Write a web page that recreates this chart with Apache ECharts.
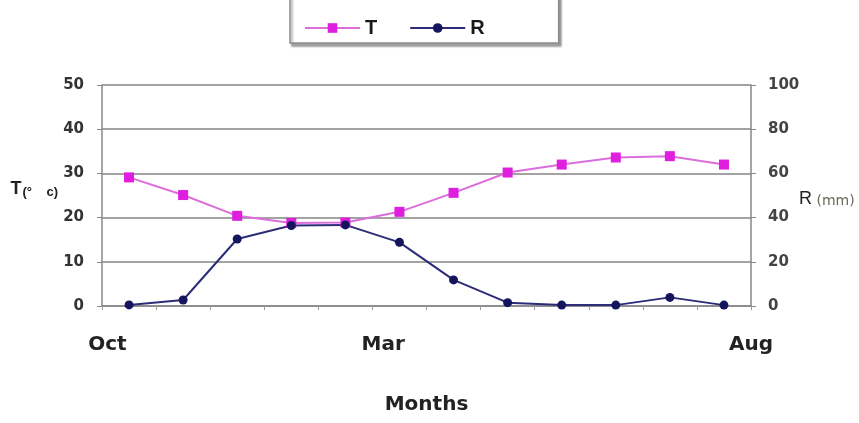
<!DOCTYPE html>
<html>
<head>
<meta charset="utf-8">
<script src="https://cdn.jsdelivr.net/npm/echarts@6/dist/echarts.min.js"></script>
<style>
    html, body { margin: 0; padding: 0; background: #fff; }
    #chart-box { width: 859px; height: 423px; }
</style>
</head>
<body>
<div id="chart-box"></div>
<script>
    // months on the category axis (one point per month)
    let months = ['Oct', 'Nov', 'Dec', 'Jan', 'Feb', 'Mar', 'Apr', 'May', 'Jun', 'Jul', 'Aug', 'Sep'];
    // temperature (°C), left axis
    let tempValues = [29.1, 25.1, 20.4, 18.8, 18.9, 21.3, 25.6, 30.2, 32.0, 33.6, 33.9, 32.0];
    // rainfall (mm), right axis
    let rainValues = [0.5, 2.7, 30.3, 36.4, 36.7, 28.8, 11.8, 1.5, 0.4, 0.4, 3.9, 0.4];
    // month labels printed under the axis and where they sit (in category widths)
    let tickLabels = ['Oct', 'Mar', 'Aug'];
    let tickSlots = [0.1, 5.2, 12];

    let labelFont = 'DejaVu Sans, Arial, sans-serif';

    let option = {
        backgroundColor: '#fff',
        animation: false,
        legend: {
            left: 290,
            top: -10,
            padding: [28, 74, 5, 14],
            itemWidth: 55,
            itemHeight: 12,
            itemGap: 32,
            borderColor: '#8a8a8a',
            borderWidth: 1.5,
            backgroundColor: '#fff',
            shadowColor: 'rgba(0,0,0,0.35)',
            shadowBlur: 2,
            shadowOffsetX: 2,
            shadowOffsetY: 3,
            textStyle: {
                fontFamily: 'Liberation Sans, Arial, sans-serif',
                fontSize: 20,
                fontWeight: 'bold',
                color: '#1a1a1a'
            },
            data: ['T', 'R']
        },
        grid: {
            left: 102,
            right: 108,
            top: 85,
            bottom: 117
        },
        xAxis: [
            {
                type: 'category',
                data: months,
                boundaryGap: true,
                name: 'Months',
                nameLocation: 'middle',
                nameGap: 89,
                nameTextStyle: {
                    fontFamily: labelFont,
                    fontSize: 20,
                    fontWeight: 'bold',
                    color: '#222'
                },
                axisLine: {lineStyle: {color: '#888', width: 1.5}},
                axisTick: {show: true, length: 4, alignWithLabel: false, lineStyle: {color: '#999'}},
                axisLabel: {show: false},
                splitLine: {show: false}
            },
            {
                type: 'value',
                position: 'bottom',
                min: 0,
                max: 12,
                axisLine: {show: false},
                axisTick: {show: false},
                splitLine: {show: false},
                axisLabel: {
                    customValues: tickSlots,
                    margin: 29,
                    fontFamily: labelFont,
                    fontSize: 20,
                    fontWeight: 'bold',
                    color: '#222',
                    formatter: function (v) {
                        let i = tickSlots.indexOf(v);
                        return i >= 0 ? tickLabels[i] : '';
                    }
                }
            }
        ],
        yAxis: [
            {
                type: 'value',
                min: 0,
                max: 50,
                interval: 10,
                name: '{a|T}{b|(°    c)}',
                nameLocation: 'middle',
                nameRotate: 0,
                nameGap: 44,
                nameMoveOverlap: false,
                nameTextStyle: {
                    padding: [0, 0, 12, 0],
                    rich: {
                        a: {fontFamily: 'Liberation Sans, Arial, sans-serif', fontSize: 18, fontWeight: 'bold', color: '#222'},
                        b: {fontFamily: 'Liberation Sans, Arial, sans-serif', fontSize: 13, fontWeight: 'bold', color: '#222', padding: [6, 0, 0, 1]}
                    }
                },
                axisLine: {show: true, lineStyle: {color: '#888', width: 1.5}},
                axisTick: {show: true, length: 5, lineStyle: {color: '#888'}},
                axisLabel: {
                    margin: 18,
                    fontFamily: labelFont,
                    fontSize: 15,
                    fontWeight: 'bold',
                    color: '#333'
                },
                splitLine: {lineStyle: {color: '#858585', width: 1.6}}
            },
            {
                type: 'value',
                min: 0,
                max: 100,
                interval: 20,
                position: 'right',
                name: '{a|R}{b| (mm)}',
                nameLocation: 'middle',
                nameRotate: 0,
                nameGap: 48,
                nameMoveOverlap: false,
                nameTextStyle: {
                    padding: [8, 0, 0, 0],
                    rich: {
                        a: {fontFamily: 'Liberation Sans, Arial, sans-serif', fontSize: 18, color: '#222'},
                        b: {fontFamily: labelFont, fontSize: 14, color: '#6a6a52', padding: [4, 0, 0, 0]}
                    }
                },
                axisLine: {show: true, lineStyle: {color: '#888', width: 1.5}},
                axisTick: {show: true, length: 5, lineStyle: {color: '#888'}},
                axisLabel: {
                    margin: 17,
                    fontFamily: labelFont,
                    fontSize: 15,
                    fontWeight: 'bold',
                    color: '#444'
                },
                splitLine: {show: false}
            }
        ],
        series: [
            {
                name: 'T',
                type: 'line',
                xAxisIndex: 0,
                yAxisIndex: 0,
                data: tempValues,
                symbol: 'rect',
                symbolSize: 10,
                lineStyle: {color: '#dc6edc', width: 2},
                itemStyle: {color: '#e01ee0'}
            },
            {
                name: 'R',
                type: 'line',
                xAxisIndex: 0,
                yAxisIndex: 1,
                data: rainValues,
                symbol: 'circle',
                symbolSize: 9,
                lineStyle: {color: '#2c2c78', width: 2},
                itemStyle: {color: '#15155e'}
            }
        ]
    };

    let chart = echarts.init(document.getElementById('chart-box'));
    chart.setOption(option);

    window.addEventListener('resize', function () {
        chart.resize();
    });
</script>
</body>
</html>
